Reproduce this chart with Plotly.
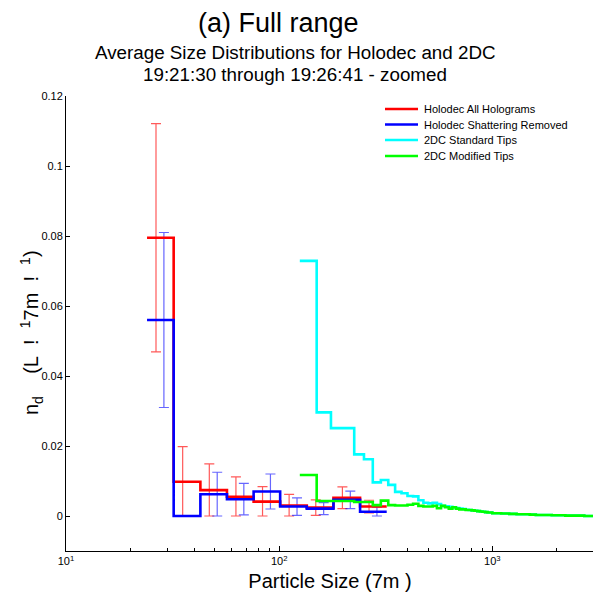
import plotly.graph_objects as go
import numpy as np

# ---------------- data ----------------
# Holodec bin edges (um) and values (L^-1 um^-1)
holo_edges = [24.0, 32.0, 42.7, 56.9, 75.9, 101.1, 134.8, 179.8, 239.7, 319.6]
holo_all = [0.0795, 0.0098, 0.0074, 0.0055, 0.0041, 0.0030, 0.0024, 0.0052, 0.0027]
holo_all_err = [0.0326, 0.0100, 0.0075, 0.0057, 0.0043, 0.0032, 0.0022, 0.0031, 0.0018]
holo_shat = [0.0560, 0.0, 0.0062, 0.0048, 0.0070, 0.0027, 0.0021, 0.0046, 0.0012]
holo_shat_err = [0.0250, 0.0, 0.0063, 0.0045, 0.0050, 0.0025, 0.0017, 0.0025, 0.0013]

# 2DC bin edges (um)
edges_2dc = [125, 150, 175, 200, 225, 250, 275, 300, 325, 350,
             375, 400, 425, 450, 475, 500, 525, 550, 575, 600,
             625, 650, 675, 700, 725, 750, 775, 800, 825, 850,
             875, 900, 925, 950, 975, 1000,
             1100, 1200, 1300, 1400, 1500, 1600, 1700, 1800, 1900, 2000,
             2100, 2200, 2300, 2400, 2500, 2600, 2700, 2800, 2900, 3000]
std_tips = [0.0729, 0.0296, 0.0251, 0.0251, 0.0176, 0.0162, 0.0096, 0.0103, 0.0089, 0.0069,
            0.0065, 0.0057, 0.0056, 0.0045, 0.0038, 0.0036, 0.0038, 0.0034, 0.0029, 0.0028,
            0.0026, 0.0025, 0.0023, 0.0021, 0.0020, 0.0018, 0.0017, 0.0016, 0.0015, 0.0014,
            0.0013, 0.0012, 0.0011, 0.0010, 0.0010,
            0.0008, 0.0007, 0.0006, 0.0005, 0.0005, 0.0004, 0.0003, 0.0003, 0.0003, 0.0002,
            0.0002, 0.0002, 0.0001, 0.0001, 0.0001, 0.0001, 0.0001, 0.0000, 0.0000, 0.0000]
mod_tips = [0.0117, 0.0043, 0.0043, 0.0043, 0.0040, 0.0040, 0.0031, 0.0044, 0.0031, 0.0030,
            0.0030, 0.0032, 0.0035, 0.0029, 0.0027, 0.0027, 0.0029, 0.0022, 0.0029, 0.0025,
            0.0021, 0.0025, 0.0021, 0.0019, 0.0019, 0.0017, 0.0017, 0.0016, 0.0015, 0.0014,
            0.0013, 0.0012, 0.0011, 0.0010, 0.0010,
            0.0008, 0.0007, 0.0006, 0.0005, 0.0005, 0.0004, 0.0003, 0.0003, 0.0003, 0.0002,
            0.0002, 0.0002, 0.0001, 0.0001, 0.0001, 0.0001, 0.0001, 0.0000, 0.0000, 0.0000]

series_names = ["Holodec All Holograms", "Holodec Shattering Removed",
                "2DC Standard Tips", "2DC Modified Tips"]
series_colors = ["#ff0000", "#0000ff", "#00ffff", "#00ff00"]

y_ticks = [0, 0.02, 0.04, 0.06, 0.08, 0.1, 0.12]
y_ticktext = ["0", "0.02", "0.04", "0.06", "0.08", "0.1", "0.12"]
x_ticks = [10, 100, 1000]
x_ticktext = ["10<sup>1</sup>", "10<sup>2</sup>", "10<sup>3</sup>"]
x_minor = [20, 30, 40, 50, 60, 70, 80, 90, 200, 300, 400, 500, 600, 700, 800, 900, 2000, 3000]

FONT = "Liberation Sans, Arial, sans-serif"
NB = "\u00a0"

def step_y(vals):
    return list(vals) + [vals[-1]]

e = np.array(holo_edges)
centers = np.sqrt(e[:-1] * e[1:])
x_err_red = centers * 0.954
x_err_blue = centers * 1.039

def lower(vals, errs):
    return [min(v, er) for v, er in zip(vals, errs)]

fig = go.Figure()

# error bars (no legend)
fig.add_trace(go.Scatter(
    x=x_err_red, y=holo_all, mode="markers", showlegend=False, hoverinfo="skip",
    marker=dict(size=1, color="rgba(0,0,0,0)"),
    error_y=dict(type="data", symmetric=False, array=holo_all_err,
                 arrayminus=lower(holo_all, holo_all_err),
                 color="rgba(255,0,0,0.65)", thickness=1.2, width=5)))
fig.add_trace(go.Scatter(
    x=x_err_blue, y=holo_shat, mode="markers", showlegend=False, hoverinfo="skip",
    marker=dict(size=1, color="rgba(0,0,0,0)"),
    error_y=dict(type="data", symmetric=False, array=holo_shat_err,
                 arrayminus=lower(holo_shat, holo_shat_err),
                 color="rgba(0,0,255,0.6)", thickness=1.2, width=5)))

series = [(holo_edges, holo_all), (holo_edges, holo_shat),
          (edges_2dc, std_tips), (edges_2dc, mod_tips)]
for (xe, ys), nm, col in zip(series, series_names, series_colors):
    fig.add_trace(go.Scatter(x=xe, y=step_y(ys), mode="lines", line_shape="hv",
                             line=dict(color=col, width=2.6), name=nm, showlegend=False))

# page body has an 8px margin: work in screenshot pixels, convert to figure coords
OFF = 8
W, H = 601 - OFF, 597 - OFF
PL, PR, PT, PB = 66, 594, 96, 551          # plot area in screenshot pixels
L, T = PL - OFF, PT - OFF
R = W - (PR - OFF)
B = H - (PB - OFF)

def px(p):
    return (p - PL) / (PR - PL)

def py(p):
    return (PB - p) / (PB - PT)

ylabel = ("n<sub>d</sub>" + NB * 4 + "(L" + NB * 2 + "!" + NB * 2 + "<sup>1</sup>7m"
          + NB * 2 + "!" + NB * 2 + "<sup>1</sup>)")

annotations = [
    dict(text="(a) Full range", x=px(278), y=py(23), xref="paper", yref="paper",
         showarrow=False, font=dict(size=27, family=FONT), xanchor="center", yanchor="middle"),
    dict(text="Average Size Distributions for Holodec and 2DC", x=px(295), y=py(53),
         xref="paper", yref="paper", showarrow=False, font=dict(size=18.8, family=FONT),
         xanchor="center", yanchor="middle"),
    dict(text="19:21:30 through 19:26:41 - zoomed", x=px(295), y=py(75),
         xref="paper", yref="paper", showarrow=False, font=dict(size=18.8, family=FONT),
         xanchor="center", yanchor="middle"),
    dict(text=ylabel, x=px(31), y=py(333), xref="paper", yref="paper", textangle=-90,
         showarrow=False, font=dict(size=20, family=FONT), xanchor="center", yanchor="middle"),
]
shapes = []
legend_rows = [109, 124.5, 140, 156]
for nm, col, ry in zip(series_names, series_colors, legend_rows):
    shapes.append(dict(type="line", xref="paper", yref="paper",
                       x0=px(385), x1=px(418), y0=py(ry), y1=py(ry),
                       line=dict(color=col, width=2.6)))
    annotations.append(dict(text=nm, x=px(422), y=py(ry), xref="paper", yref="paper",
                            showarrow=False, font=dict(size=11, family=FONT),
                            xanchor="left", yanchor="middle"))

fig.update_layout(
    width=W, height=H,
    margin=dict(l=L, r=R, t=T, b=B),
    paper_bgcolor="white", plot_bgcolor="white",
    font=dict(family=FONT, color="black", size=11),
    showlegend=False,
    annotations=annotations,
    shapes=shapes,
)

fig.update_xaxes(
    type="log", range=[1, np.log10(3000)], automargin=False,
    showline=True, linecolor="black", linewidth=1, mirror=False,
    showgrid=False, zeroline=False,
    ticks="inside", ticklen=5, tickcolor="black",
    tickvals=x_ticks, ticktext=x_ticktext,
    minor=dict(ticks="inside", ticklen=3, tickcolor="black", tickvals=x_minor, showgrid=False),
    tickfont=dict(size=11, family=FONT, color="black"),
    title=dict(text="Particle Size (7m" + NB + ")", font=dict(size=20, family=FONT, color="black"),
               standoff=7),
)
fig.update_yaxes(
    range=[-0.01, 0.12], automargin=False,
    showline=True, linecolor="black", linewidth=1, mirror=False,
    showgrid=False, zeroline=False,
    ticks="inside", ticklen=4, tickcolor="black",
    tickvals=y_ticks, ticktext=y_ticktext,
    tickfont=dict(size=11, family=FONT, color="black"),
)

fig.write_html("out.html")
